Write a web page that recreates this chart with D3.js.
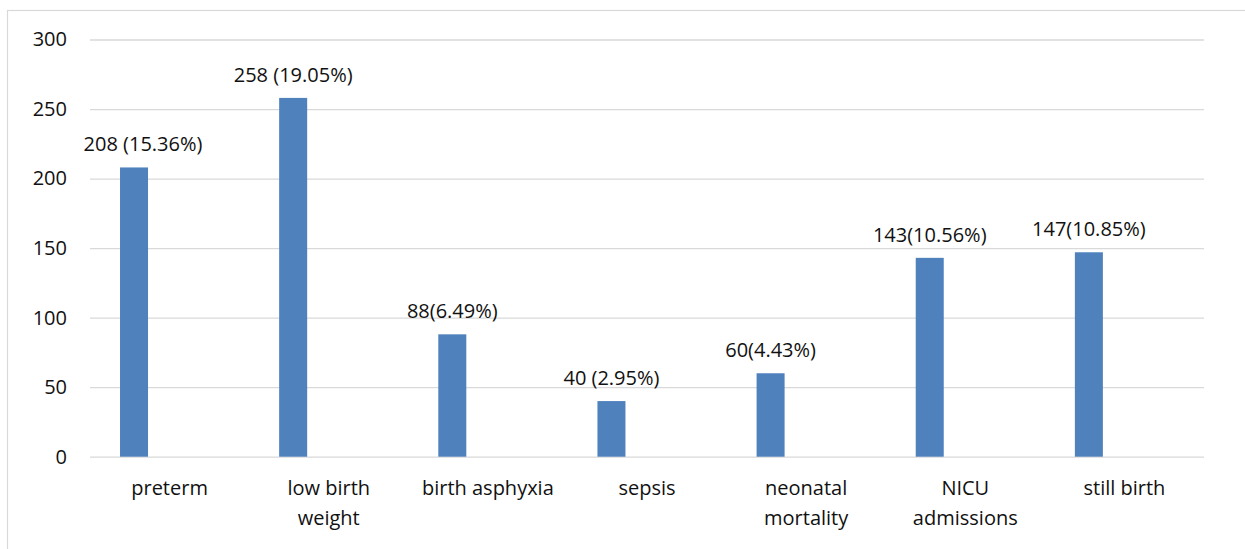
<!DOCTYPE html>
<html>
<head>
<meta charset="utf-8">
<script src="https://cdn.jsdelivr.net/npm/d3@7"></script>
<style>
  body { margin: 0; background: #fff; }
  svg text { font-family: "Open Sans", sans-serif; fill: #111; }
</style>
</head>
<body>
<div id="chart"></div>
<script>
// chart data
var categories = ["preterm", "low birth weight", "birth asphyxia", "sepsis", "neonatal mortality", "NICU admissions", "still birth"];
var categoryLines = [["preterm"], ["low birth", "weight"], ["birth asphyxia"], ["sepsis"], ["neonatal", "mortality"], ["NICU", "admissions"], ["still birth"]];
var values = [208, 258, 88, 40, 60, 143, 147];
var valueLabels = ["208 (15.36%)", "258 (19.05%)", "88(6.49%)", "40 (2.95%)", "60(4.43%)", "143(10.56%)", "147(10.85%)"];
var yTicks = [0, 50, 100, 150, 200, 250, 300];

(function() {
  var w = 1245, h = 549;
  var plotLeft = 90, plotRight = 1204, plotTop = 39.5, plotBottom = 456.7;

  var svg = d3.select("#chart").append("svg")
      .attr("width", w)
      .attr("height", h);

  // outer chart frame (right/bottom edges fall outside the picture)
  svg.append("rect")
      .attr("x", 7.5).attr("y", 10.5)
      .attr("width", w + 20).attr("height", h + 20)
      .attr("fill", "none")
      .attr("stroke", "#d9d9d9")
      .attr("stroke-width", 1.2);

  var x = d3.scaleBand()
      .domain(categories)
      .range([plotLeft, plotRight])
      .padding(0);

  var y = d3.scaleLinear()
      .domain([0, 300])
      .range([plotBottom, plotTop]);

  // gridlines + y labels
  var yAxis = svg.append("g")
      .attr("transform", "translate(" + plotLeft + ",0)")
      .call(d3.axisLeft(y).tickValues(yTicks).tickSize(-(plotRight - plotLeft)).tickPadding(23));
  yAxis.select(".domain").remove();
  yAxis.selectAll(".tick line")
      .attr("stroke", "#d9d9d9")
      .attr("stroke-width", 1.3);
  yAxis.selectAll(".tick text")
      .style("font-size", "20px")
      .attr("fill", "#111");

  // bars sit left of the category centre (empty second series in the original)
  var bw = x.bandwidth();
  var barOff = bw * 0.1886, barW = bw * 0.176;

  svg.append("g")
      .selectAll("rect")
      .data(values)
      .enter().append("rect")
      .attr("x", function(d, i) { return x(categories[i]) + barOff; })
      .attr("y", function(d) { return y(d); })
      .attr("width", barW)
      .attr("height", function(d) { return y(0) - y(d); })
      .attr("fill", "#4f81bd");

  // value labels
  svg.append("g")
      .selectAll("text")
      .data(values)
      .enter().append("text")
      .attr("x", function(d, i) {
        var cx = x(categories[i]) + barOff + barW / 2;
        return i === 0 ? cx + 9 : cx; // first label was nudged right
      })
      .attr("y", function(d) { return y(d) - 16; })
      .attr("text-anchor", "middle")
      .style("font-size", "20px")
      .text(function(d, i) { return valueLabels[i]; });

  // category labels
  var cat = svg.append("g")
      .selectAll("text")
      .data(categories)
      .enter().append("text")
      .attr("text-anchor", "middle")
      .attr("transform", function(d) { return "translate(" + (x(d) + bw / 2) + ",495)"; })
      .style("font-size", "20px");

  cat.selectAll("tspan")
      .data(function(d, i) { return categoryLines[i]; })
      .enter().append("tspan")
      .attr("x", 0)
      .attr("y", function(d, j) { return j * 30; })
      .text(function(d) { return d; });
})();
</script>
</body>
</html>
